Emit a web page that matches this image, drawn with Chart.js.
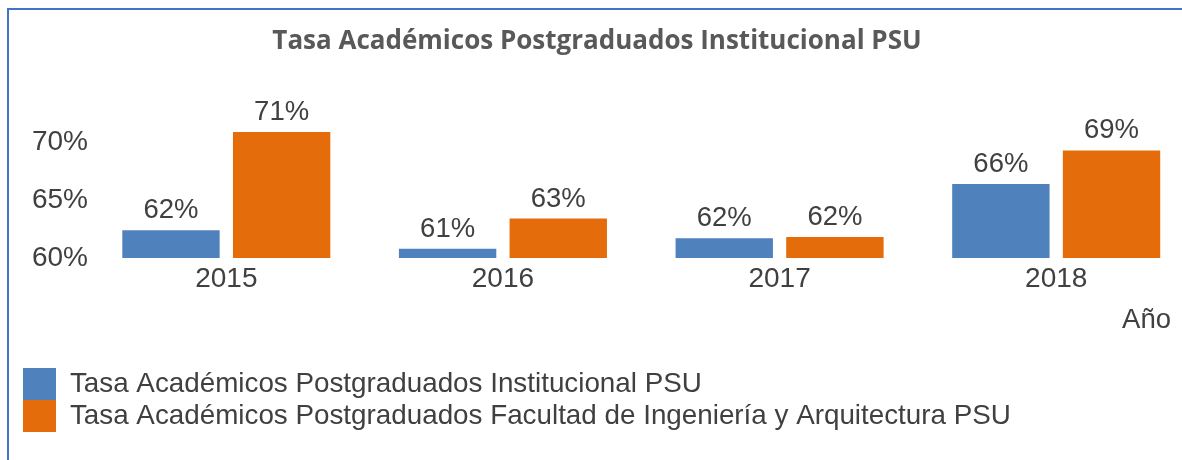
<!DOCTYPE html>
<html>
<head>
<meta charset="utf-8">
<script src="https://cdn.jsdelivr.net/npm/chart.js@4.4.1/dist/chart.umd.min.js"></script>
<style>
  html, body { margin: 0; padding: 0; background: #fff; overflow: hidden; }
  #wrap { position: relative; width: 1182px; height: 460px; }
  #frame {
    position: absolute; left: 7px; top: 8px; right: -10px; bottom: -10px;
    border-left: 2px solid #4472c4; border-top: 2px solid #4472c4;
    pointer-events: none;
  }
</style>
</head>
<body>
<div id="wrap">
  <canvas id="chart" width="1182" height="460"></canvas>
  <div id="frame"></div>
</div>
<script>
const years = ['2015', '2016', '2017', '2018'];
const institucional = [62.4, 60.8, 61.7, 66.4];
const facultad = [70.9, 63.4, 61.8, 69.3];
const yTicks = [60, 65, 70];

const textFont = '"Liberation Sans", Arial, sans-serif';
const textColor = '#404040';

// labels above each bar
const valueLabels = {
  id: 'valueLabels',
  afterDatasetsDraw(chart) {
    const ctx = chart.ctx;
    ctx.save();
    ctx.font = '27.5px ' + textFont;
    ctx.fillStyle = textColor;
    ctx.textAlign = 'center';
    ctx.textBaseline = 'alphabetic';
    chart.data.datasets.forEach((ds, di) => {
      chart.getDatasetMeta(di).data.forEach((bar, i) => {
        ctx.fillText(Math.round(ds.data[i].y) + '%', bar.x, bar.y - 12);
      });
    });
    ctx.restore();
  }
};

const ctx = document.getElementById('chart').getContext('2d');
new Chart(ctx, {
  type: 'bar',
  data: {
    datasets: [{
      label: 'Tasa Académicos Postgraduados Institucional PSU',
      data: years.map((y, i) => ({ x: i, y: institucional[i] })),
      backgroundColor: '#4f81bd',
      borderWidth: 0
    }, {
      label: 'Tasa Académicos Postgraduados Facultad de Ingeniería y Arquitectura PSU',
      data: years.map((y, i) => ({ x: i, y: facultad[i] })),
      backgroundColor: '#e46c0a',
      borderWidth: 0
    }]
  },
  options: {
    responsive: false,
    animation: false,
    datasets: { bar: { categoryPercentage: 0.8, barPercentage: 0.88 } },
    layout: { padding: { left: 23, right: 11, top: 0, bottom: 18 } },
    plugins: {
      tooltip: { enabled: false },
      title: {
        display: true,
        text: 'Tasa Académicos Postgraduados Institucional PSU',
        color: '#595959',
        font: { family: '"Open Sans", Lato, sans-serif', size: 26, weight: 'bold' },
        padding: { top: 26, bottom: 62 }
      },
      legend: {
        position: 'bottom',
        align: 'start',
        labels: {
          boxWidth: 33,
          boxHeight: 32,
          padding: 0,
          color: textColor,
          font: { family: textFont, size: 27.8 }
        }
      }
    },
    scales: {
      x: {
        type: 'linear',
        offset: false,
        min: -0.5,
        max: 3.415,
        afterBuildTicks: s => { s.ticks = years.map((y, i) => ({ value: i })); },
        grid: { display: false, drawTicks: false },
        border: { display: false },
        ticks: {
          padding: 5,
          color: textColor,
          font: { family: textFont, size: 28 },
          callback: v => years[v] ?? ''
        },
        title: {
          display: true,
          text: 'Año',
          align: 'end',
          color: textColor,
          font: { family: textFont, size: 27.5 },
          padding: { top: 2, bottom: 31.5 }
        }
      },
      y: {
        min: 60,
        max: 72,
        afterBuildTicks: s => { s.ticks = yTicks.map(v => ({ value: v })); },
        afterFit: s => { s.width = 65; },
        grid: { display: false, drawTicks: false },
        border: { display: false },
        ticks: {
          padding: 0,
          color: textColor,
          font: { family: textFont, size: 28 },
          callback: v => v + '%'
        }
      }
    }
  },
  plugins: [valueLabels]
});
</script>
</body>
</html>
